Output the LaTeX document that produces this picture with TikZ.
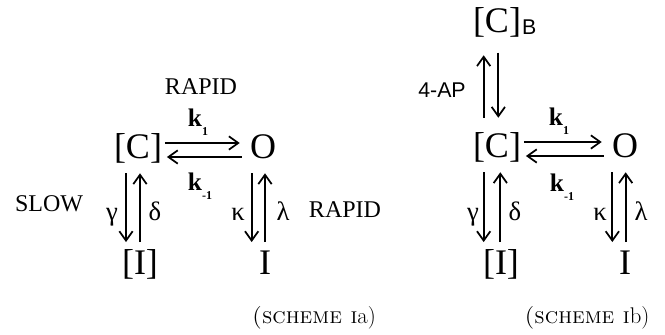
\documentclass[tikz,border=0pt]{standalone}
\usepackage{fontspec}
\usetikzlibrary{arrows.meta}
\newfontfamily\chemfont{Liberation Serif}
\newfontfamily\apfont{Liberation Sans}
\newcommand\ratek[1]{\textbf{k}\raisebox{-0.35em}{\fontsize{9}{9}\selectfont\bfseries #1}}
\tikzset{
  species/.style={font=\chemfont\fontsize{27}{27}\selectfont, inner sep=0pt, text height=19pt, text depth=5pt},
  word/.style={font=\chemfont\fontsize{18}{18}\selectfont, inner sep=0pt},
  greek/.style={font=\chemfont\fontsize{20}{20}\selectfont, inner sep=0pt, text height=14pt, text depth=5pt},
  ratelab/.style={font=\chemfont\fontsize{19}{19}\selectfont, inner sep=0pt},
  sanslab/.style={font=\apfont\fontsize{16}{16}\selectfont, inner sep=0pt},
  schemecap/.style={font=\fontsize{17}{17}\selectfont\addfontfeatures{LetterSpace=13}, inner sep=0pt},
  fwd/.style={line width=1.3pt, -{Straight Barb[length=7pt,width=10pt,line width=1.3pt]}},
}
\begin{document}
\begin{tikzpicture}[x=0.75pt,y=-0.75pt]
	\useasboundingbox (0,0) rectangle (665,335);
	% scheme Ia
	\node	(ca) at (138,149) [species] {[C]};
	\node	(oa) at (263,149) [species] {O};
	\node	(ia) at (140,265) [species] {[I]};
	\node	(ta) at (265,265) [species] {I};
	\node	(rapidtop) at (201,87) [word] {RAPID};
	\node	(slow) at (49,204) [word] {SLOW};
	\node	(rapidright) at (345,210) [word] {RAPID};
	\node	(kfa) at (198,122) [ratelab] {\ratek{1}};
	\node	(kba) at (200,186) [ratelab] {\ratek{-1}};
	\node	(ga) at (112,214) [greek] {γ};
	\node	(da) at (155,214) [greek] {δ};
	\node	(ka) at (238,214) [greek] {κ};
	\node	(la) at (283,214) [greek] {λ};
	\node	(capa) at (314,318) [schemecap] {{\scshape (scheme i}a)};
	\draw
	([yshift=4.5pt]ca.east) edge[fwd, shorten <=2pt, shorten >=7.5pt] ([yshift=4.5pt]oa.west)
	([yshift=-6pt]oa.west) edge[fwd, shorten <=6pt, shorten >=3.5pt] ([yshift=-6pt]ca.east)
	([xshift=-9pt]ca.south) edge[fwd, shorten <=6pt, shorten >=5pt] ([xshift=-9pt]ca.south |- ia.north)
	([xshift=1.5pt]ca.south |- ia.north) edge[fwd, shorten <=5pt, shorten >=6pt] ([xshift=1.5pt]ca.south)
	([xshift=-8.5pt]oa.south) edge[fwd, shorten <=6pt, shorten >=5pt] ([xshift=-8.5pt]oa.south |- ta.north)
	([xshift=1.5pt]oa.south |- ta.north) edge[fwd, shorten <=5pt, shorten >=6pt] ([xshift=1.5pt]oa.south)
	;
	% scheme Ib
	\node	(cbt) at (497,23) [species] {[C]};
	\node	(bsub) at (cbt.base east) [sanslab, anchor=base west, yshift=-2pt, xshift=0.5pt] {B};
	\node	(cb) at (497,148) [species] {[C]};
	\node	(ob) at (625,148) [species] {O};
	\node	(ib) at (501,265) [species] {[I]};
	\node	(tb) at (625,265) [species] {I};
	\node	(ap) at (442,90) [sanslab] {4-AP};
	\node	(kfb) at (559,121) [ratelab] {\ratek{1}};
	\node	(kbb) at (562,187) [ratelab] {\ratek{-1}};
	\node	(gb) at (473,214) [greek] {γ};
	\node	(db) at (515,214) [greek] {δ};
	\node	(kb) at (600,214) [greek] {κ};
	\node	(lb) at (641,214) [greek] {λ};
	\node	(capb) at (587,318) [schemecap] {{\scshape (scheme i}b)};
	\draw
	([xshift=-10pt]cb.north) edge[fwd, shorten <=10.5pt, shorten >=12pt] ([xshift=-10pt]cb.north |- cbt.south)
	([xshift=1pt]cb.north |- cbt.south) edge[fwd, shorten <=10pt, shorten >=10.5pt] ([xshift=1pt]cb.north)
	([yshift=4.5pt]cb.east) edge[fwd, shorten <=2pt, shorten >=7.5pt] ([yshift=4.5pt]ob.west)
	([yshift=-6pt]ob.west) edge[fwd, shorten <=6pt, shorten >=3.5pt] ([yshift=-6pt]cb.east)
	([xshift=-10pt]cb.south) edge[fwd, shorten <=6pt, shorten >=5pt] ([xshift=-10pt]cb.south |- ib.north)
	([xshift=2.5pt]cb.south |- ib.north) edge[fwd, shorten <=5pt, shorten >=6pt] ([xshift=2.5pt]cb.south)
	([xshift=-9.5pt]ob.south) edge[fwd, shorten <=6pt, shorten >=5pt] ([xshift=-9.5pt]ob.south |- tb.north)
	([xshift=0.5pt]ob.south |- tb.north) edge[fwd, shorten <=5pt, shorten >=6pt] ([xshift=0.5pt]ob.south)
	;
\end{tikzpicture}
\end{document}
